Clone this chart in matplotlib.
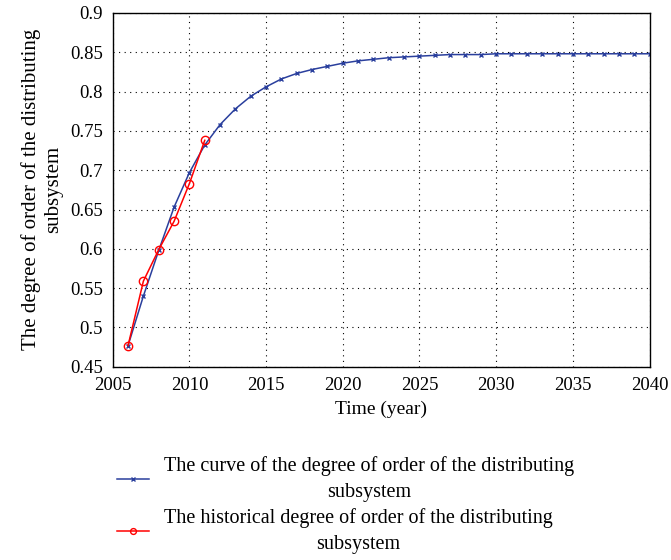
import matplotlib
matplotlib.use('Agg')
import matplotlib.pyplot as plt

plt.rcParams['font.family'] = ['Liberation Serif', 'DejaVu Serif']

# model curve (yearly)
years = list(range(2006, 2041))
order_curve = [0.477, 0.540, 0.598, 0.653, 0.697, 0.732, 0.758, 0.778, 0.794, 0.806,
               0.816, 0.823, 0.828, 0.832, 0.836, 0.839, 0.841, 0.843, 0.844, 0.845,
               0.846, 0.847, 0.847, 0.847, 0.848, 0.848, 0.848, 0.848, 0.848, 0.848,
               0.848, 0.848, 0.848, 0.848, 0.848]
# historical values
hist_years = [2006, 2007, 2008, 2009, 2010, 2011]
hist_order = [0.477, 0.559, 0.599, 0.635, 0.683, 0.738]

fig = plt.figure(figsize=(6.71, 5.6), dpi=100)
ax = fig.add_axes([0.168, 0.345, 0.800, 0.632])

ax.plot(years, order_curve, color='#2a3f9d', marker='x', markersize=3.5, linewidth=1.1,
        label='The curve of the degree of order of the distributing\nsubsystem')
ax.plot(hist_years, hist_order, color='#ff0000', marker='o', markersize=6,
        markerfacecolor='none', linewidth=1.1,
        label='The historical degree of order of the distributing\nsubsystem')

ax.set_xlim(2005, 2040)
ax.set_ylim(0.45, 0.9)
ax.set_xticks(range(2005, 2041, 5))
ax.set_yticks([0.45, 0.5, 0.55, 0.6, 0.65, 0.7, 0.75, 0.8, 0.85, 0.9])
ax.set_yticklabels(['0.45', '0.5', '0.55', '0.6', '0.65', '0.7', '0.75', '0.8', '0.85', '0.9'])
ax.tick_params(direction='in', labelsize=13.5, length=0, pad=7)
ax.grid(True, linestyle=(0, (1, 4)), color='black', linewidth=0.8)
for s in ax.spines.values():
    s.set_linewidth(1.0)

ax.set_xlabel('Time (year)', fontsize=14, labelpad=5)
ax.set_ylabel('The degree of order of the distributing\nsubsystem', fontsize=15,
              labelpad=5, linespacing=1.2)

leg = fig.legend(loc='upper center', bbox_to_anchor=(0.515, 0.218), frameon=False,
                 fontsize=14.5, handlelength=1.6, labelspacing=0.3, handletextpad=0.75,
                 markerscale=0.7)
for t in leg.get_texts():
    t.set_multialignment('center')
    t.set_linespacing(1.5)

fig.savefig('out.png', dpi=100)
